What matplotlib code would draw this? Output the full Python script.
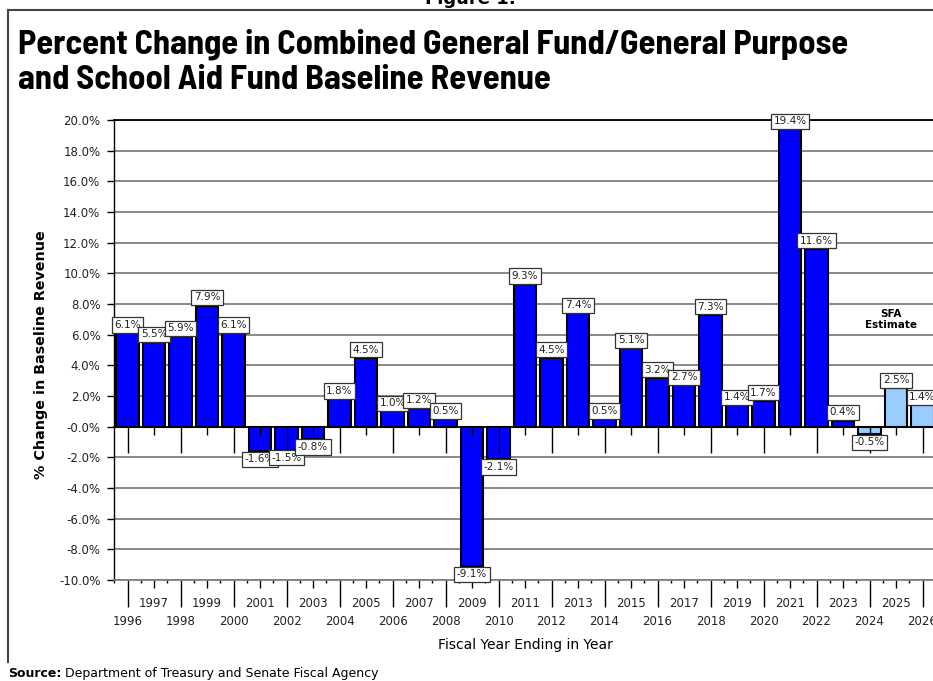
import numpy as np
import matplotlib
matplotlib.use('Agg')
import matplotlib.pyplot as plt
from matplotlib.lines import Line2D

matplotlib.rcParams['font.family'] = ['DejaVu Sans']

# fiscal years and % change in combined GF/GP + SAF baseline revenue
years = list(range(1996, 2027))
pct_change = [6.1, 5.5, 5.9, 7.9, 6.1, -1.6, -1.5, -0.8, 1.8, 4.5,
              1.0, 1.2, 0.5, -9.1, -2.1, 9.3, 4.5, 7.4, 0.5, 5.1,
              3.2, 2.7, 7.3, 1.4, 1.7, 19.4, 11.6, 0.4, -0.5, 2.5, 1.4]
first_estimate = 2024   # SFA estimate from here on
y_ticks = list(range(-10, 21, 2))

W, H = 933, 681
fig = plt.figure(figsize=(W / 100, H / 100), dpi=100)

def fx(px):
    return px / W

def fy(py):
    return 1 - py / H

left, top, bottom = 114.3, 120, 580
cat_w = 26.5
n = len(years)
pos = [fx(left), fy(bottom), fx(cat_w * n), (bottom - top) / H]

ax = fig.add_axes(pos)
x = np.arange(n)
colors = ['#99CCFF' if yr >= first_estimate else '#0000FF' for yr in years]
ax.bar(x, pct_change, width=0.85, color=colors, edgecolor='black', linewidth=1.5, zorder=2)

ax.set_xlim(-0.5, n - 0.5)
ax.set_ylim(-10, 20)

# y axis
ax.set_yticks(y_ticks)
ax.set_yticklabels(['-0.0%' if v == 0 else '%.1f%%' % v for v in y_ticks], fontsize=8.5, color='#222222')
ax.tick_params(axis='y', direction='out', length=5, width=1, pad=5)
ax.grid(axis='y', color='#808080', linewidth=1.3, zorder=0)
ax.set_axisbelow(True)
ax.spines['right'].set_visible(False)
ax.spines['top'].set_linewidth(1.3)
ax.spines['left'].set_linewidth(1)
ax.spines['bottom'].set_color('#808080')
ax.spines['bottom'].set_linewidth(1.3)

# staggered year labels: even years long ticks / lower row, odd years short ticks / upper row
even = x[::2]
odd = x[1::2]
ax.set_xticks(even)
ax.set_xticklabels([str(years[i]) for i in even], fontsize=8.5, color='#222222')
ax.set_xticks(odd, minor=True)
ax.set_xticklabels([str(years[i]) for i in odd], minor=True, fontsize=8.5, color='#222222')
ax.tick_params(axis='x', which='major', direction='out', length=19.4, width=1, pad=5.5)
ax.tick_params(axis='x', which='minor', direction='out', length=5.8, width=1, pad=6.3)

# small ticks between categories
sec = ax.secondary_xaxis('bottom')
sec.set_xticks(np.arange(-0.5, n, 1))
sec.set_xticklabels([])
sec.tick_params(length=2.2, width=1)
sec.spines['bottom'].set_visible(False)

# zero line with hanging ticks, drawn on top of the bars
ax0 = fig.add_axes(pos)
ax0.set_xlim(ax.get_xlim())
ax0.set_ylim(ax.get_ylim())
ax0.patch.set_visible(False)
for s in ['top', 'right', 'left']:
    ax0.spines[s].set_visible(False)
ax0.spines['bottom'].set_position(('data', 0))
ax0.spines['bottom'].set_linewidth(1.2)
ax0.set_yticks([])
ax0.set_xticks(even)
ax0.set_xticks(odd, minor=True)
ax0.set_xticklabels([])
ax0.set_xticklabels([], minor=True)
ax0.tick_params(axis='x', which='major', direction='out', length=19, width=1)
ax0.tick_params(axis='x', which='minor', direction='out', length=5.8, width=1)

# value boxes
box = dict(boxstyle='square,pad=0.25', fc='white', ec='#333333', lw=0.9)
for i, v in enumerate(pct_change):
    dy = 2.2 if v >= 0 else -2.2
    ax0.annotate('%.1f%%' % v, (i, v), xytext=(0, dy), textcoords='offset points',
                 ha='center', va='bottom' if v >= 0 else 'top', fontsize=7.5,
                 color='#222222', zorder=5, bbox=box)

ax0.text(28.8, 7.0, 'SFA\nEstimate', ha='center', va='center', fontsize=7.5,
         fontweight='bold', linespacing=1.1)

ax.set_ylabel('% Change in Baseline Revenue', fontsize=10.3, fontweight='bold')
ax.yaxis.set_label_coords(-(left - 48) / (cat_w * n), (bottom - 355) / (bottom - top))
fig.text(fx(525), fy(645), 'Fiscal Year Ending in Year', ha='center', va='center', fontsize=10)

# headings
title_font = ['Barlow Semi Condensed', 'DejaVu Sans']
fig.text(fx(18), fy(53), 'Percent Change in Combined General Fund/General Purpose',
         family=title_font, fontweight='bold', fontsize=24.8, va='baseline')
fig.text(fx(18), fy(89), 'and School Aid Fund Baseline Revenue',
         family=title_font, fontweight='bold', fontsize=24.8, va='baseline')
fig.text(fx(470), fy(4), 'Figure 1:', ha='center', va='baseline', fontsize=13, fontweight='bold')

# frame
fig.add_artist(Line2D([fx(8), fx(8)], [fy(10), fy(662)], color='#444444', lw=1.5))
fig.add_artist(Line2D([fx(8), 1], [fy(10), fy(10)], color='#444444', lw=1.5))

src = fig.text(fx(8), fy(677), 'Source:', fontsize=9, fontweight='bold', va='baseline', ha='left')
fig.canvas.draw()
fig.text(src.get_window_extent().x1 / fig.bbox.width, fy(677),
         ' Department of Treasury and Senate Fiscal Agency', fontsize=9,
         va='baseline', ha='left')

fig.savefig('out.png', dpi=100)
